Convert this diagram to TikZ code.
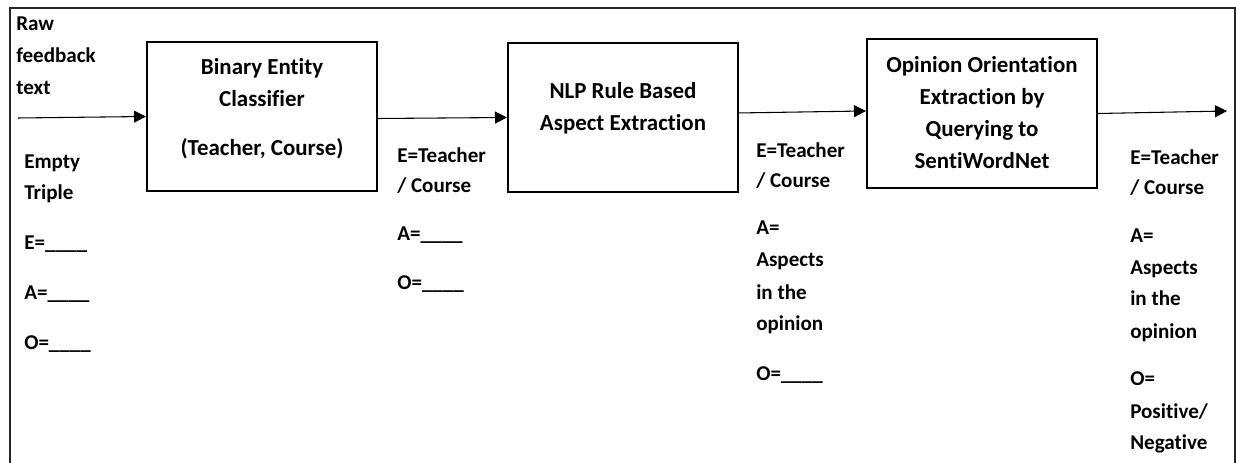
\documentclass[tikz,border=0pt]{standalone}
\usepackage{fontspec}
\setmainfont{Carlito}[Ligatures={NoCommon}]
\usetikzlibrary{arrows.meta}
\begin{document}
\begin{tikzpicture}[x=0.75pt,y=-0.75pt,
  boxtxt/.style={font=\bfseries\fontsize{17.2}{24}\selectfont, inner sep=0pt, align=center},
  txt/.style={font=\bfseries\fontsize{15.8}{24}\selectfont},
  proc/.style={draw, line width=1.5pt, inner sep=0pt, minimum width=172.5pt, minimum height=111.75pt},
  lbl/.style={txt, anchor=base west, inner sep=0pt, align=left},
  flow/.style={line width=0.8pt, -{Triangle[length=9pt,width=9pt]}}]
\useasboundingbox (0,0) rectangle (1236,463);
\draw[line width=1.4pt, black!85] (10,463) -- (10,8) -- (1235,8) -- (1235,463);

\node[proc] (b1) at (262,116.5) {};
\node[proc] (b2) at (623,117.5) {};
\node[proc] (b3) at (982,113.5) {};
\node[boxtxt] (b1t) at (262,108.5) {Binary Entity\\Classifier\\[12.75pt](Teacher, Course)};
\node[boxtxt] (b2t) at (623,108.5) {NLP Rule Based\\Aspect Extraction};
\node[boxtxt] (b3t) at (982,112.5) {Opinion Orientation\\Extraction by\\Querying to\\SentiWordNet};

\coordinate (in) at (18,118);
\coordinate (out) at (1227,111);
\draw[flow] (in) -- (b1.west);
\draw[flow] ([yshift=-1.5pt]b1.east) -- (b2.west);
\draw[flow] ([yshift=3.4pt]b2.east) -- ([yshift=1.9pt]b3.west);
\draw[flow] (b3.east) -- (out);

\node[lbl] (raw) at (16,95) {Raw\\feedback\\text};
\node[lbl] (t0) at (24,350) {Empty\\Triple\\[13.5pt]E=\_\_\_\_\\[13.5pt]A=\_\_\_\_\\[13.5pt]O=\_\_\_\_};
\node[lbl] (t1) at (397,290) {E=Teacher\\[-1.5pt]/ Course\\[12pt]A=\_\_\_\_\\[13pt]O=\_\_\_\_};
\node[lbl] (t2) at (756,381) {E=Teacher\\[-1.5pt]/ Course\\[12pt]A=\\Aspects\\in the\\opinion\\[13.5pt]O=\_\_\_\_};
\node[lbl] (t3) at (1130,450) {E=Teacher\\[-1.5pt]/ Course\\[12pt]A=\\Aspects\\in the\\opinion\\[12pt]O=\\Positive/\\Negative};
\end{tikzpicture}
\end{document}
